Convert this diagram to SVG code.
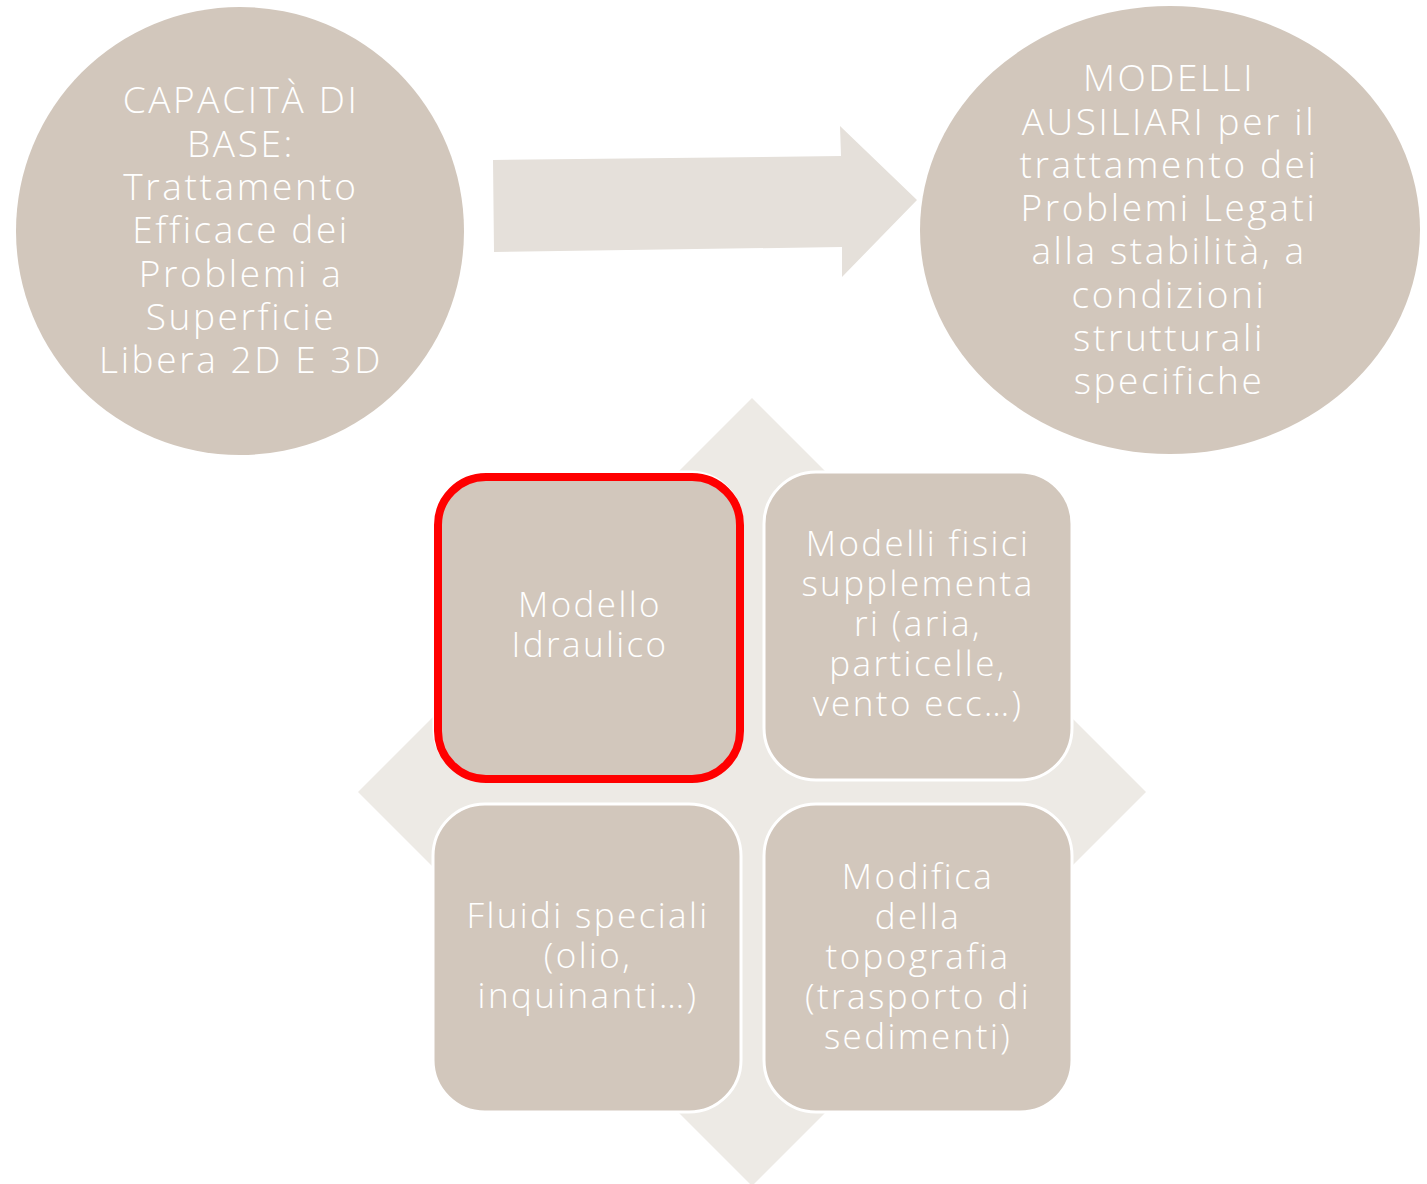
<svg xmlns="http://www.w3.org/2000/svg" width="1427" height="1184" viewBox="0 0 1427 1184">
<style>
.node{fill:#D2C7BC}
.box{fill:#D2C7BC;stroke:#FFFFFF;stroke-width:3}
.t{font-family:"Open Sans","Liberation Sans",sans-serif;font-weight:300;font-size:37px;letter-spacing:2.6px;fill:#FFFFFF;text-anchor:middle}
.tb{font-family:"Open Sans","Liberation Sans",sans-serif;font-weight:300;font-size:35px;letter-spacing:2.4px;fill:#FFFFFF;text-anchor:middle}
</style>
<rect width="1427" height="1184" fill="#FFFFFF"/>
<g id="connectors">
<polygon points="493,160 841,156 840,126 917,200 842,277 842,247 494,252" fill="#E5E0DA"/>
<polygon id="diamond" points="752,398 1146,792 752,1186 358,792" fill="#EDEAE5"/>
</g>
<g id="node-base">
<circle class="node" cx="240" cy="231" r="224"/>
<text class="t"><tspan x="241" y="113">CAPACITÀ DI</tspan><tspan x="241" y="157">BASE:</tspan><tspan x="241" y="200">Trattamento</tspan><tspan x="241" y="243">Efficace dei</tspan><tspan x="241" y="287">Problemi a</tspan><tspan x="241" y="330">Superficie</tspan><tspan x="241" y="373">Libera 2D E 3D</tspan></text>
</g>
<g id="node-aux">
<ellipse class="node" cx="1170" cy="230" rx="250" ry="224"/>
<text class="t"><tspan x="1169" y="91">MODELLI</tspan><tspan x="1169" y="135">AUSILIARI per il</tspan><tspan x="1169" y="178">trattamento dei</tspan><tspan x="1169" y="221">Problemi Legati</tspan><tspan x="1169" y="264">alla stabilità, a</tspan><tspan x="1169" y="308">condizioni</tspan><tspan x="1169" y="351">strutturali</tspan><tspan x="1169" y="394">specifiche</tspan></text>
</g>
<g id="node-idraulico">
<rect class="box" x="434" y="472" width="308" height="308" rx="52"/>
<rect x="438" y="477" width="302" height="302" rx="48" fill="none" stroke="#FF0000" stroke-width="8"/>
<text class="tb"><tspan x="590" y="617">Modello</tspan><tspan x="590" y="657">Idraulico</tspan></text>
</g>
<g id="node-fisici">
<rect class="box" x="764" y="472" width="308" height="308" rx="52"/>
<text class="tb"><tspan x="918" y="556">Modelli fisici</tspan><tspan x="918" y="596">supplementa</tspan><tspan x="918" y="636">ri (aria,</tspan><tspan x="918" y="676">particelle,</tspan><tspan x="918" y="716">vento ecc…)</tspan></text>
</g>
<g id="node-fluidi">
<rect class="box" x="433" y="804" width="308" height="308" rx="52"/>
<text class="tb"><tspan x="588" y="928">Fluidi speciali</tspan><tspan x="588" y="968">(olio,</tspan><tspan x="588" y="1008">inquinanti…)</tspan></text>
</g>
<g id="node-topografia">
<rect class="box" x="764" y="804" width="308" height="308" rx="52"/>
<text class="tb"><tspan x="918" y="889">Modifica</tspan><tspan x="918" y="929">della</tspan><tspan x="918" y="969">topografia</tspan><tspan x="918" y="1009">(trasporto di</tspan><tspan x="918" y="1049">sedimenti)</tspan></text>
</g>
</svg>
